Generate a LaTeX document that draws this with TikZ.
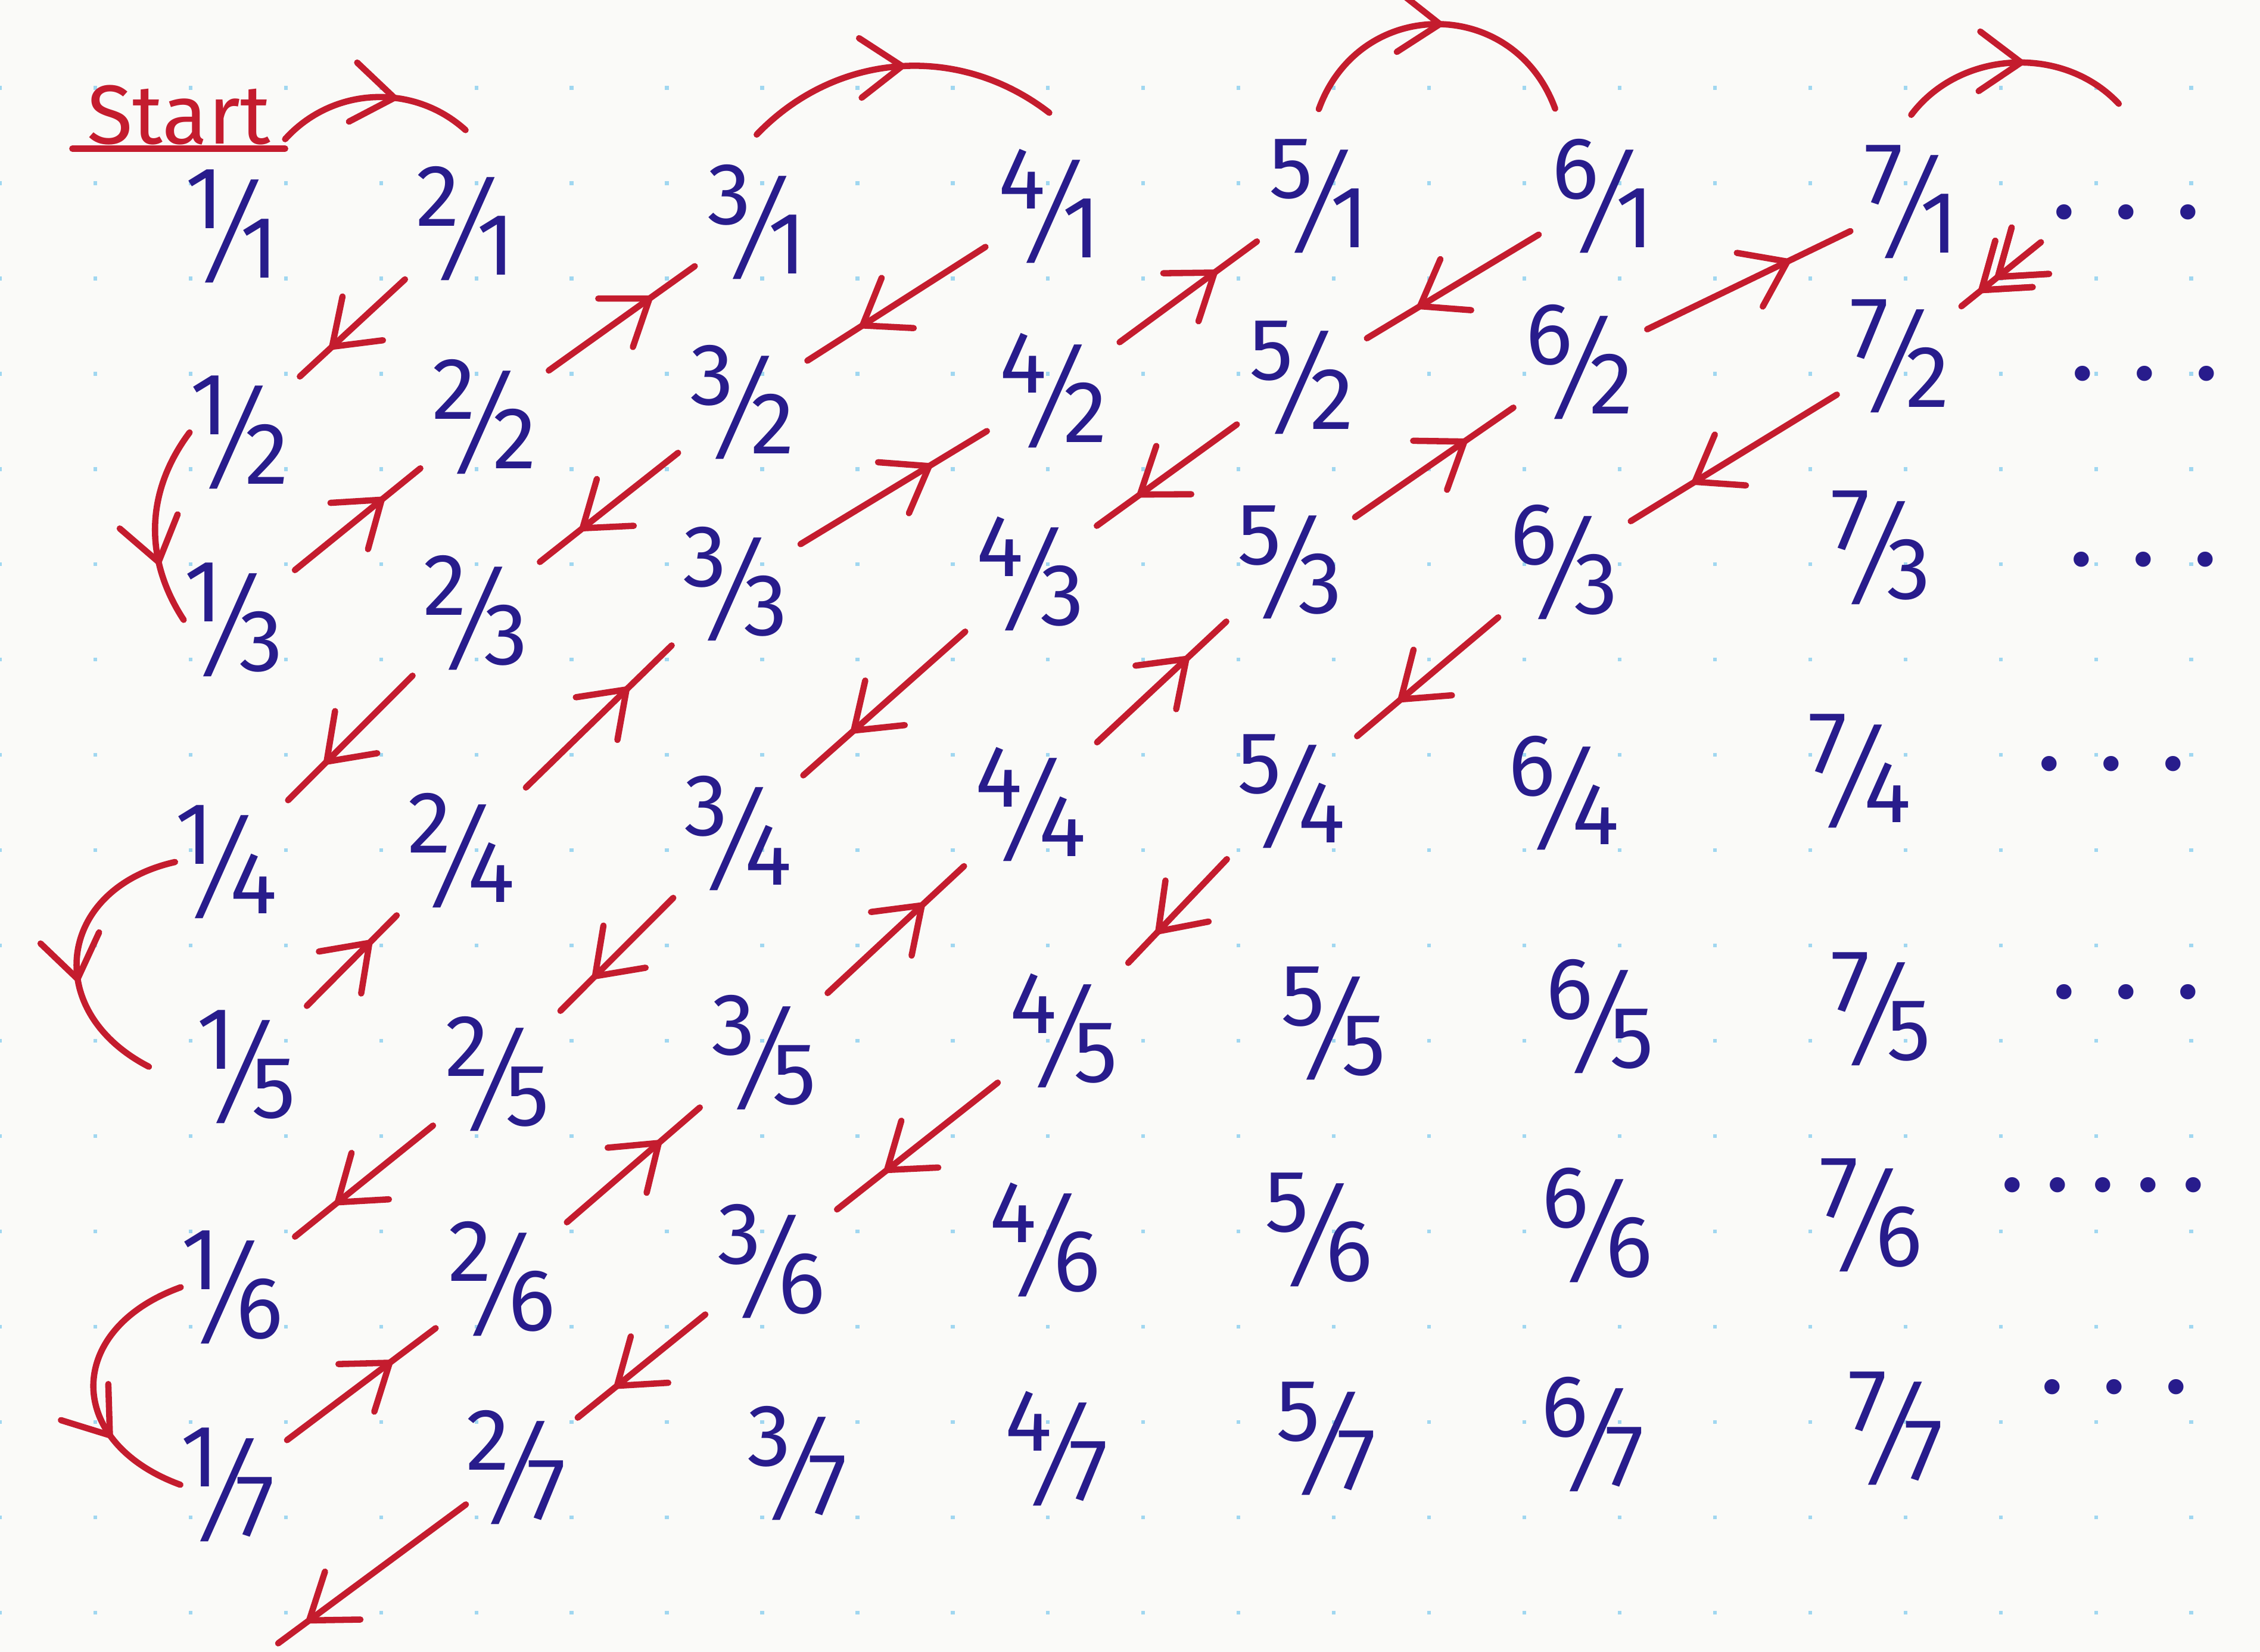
\documentclass[tikz,border=0pt]{standalone}
\usepackage{fontspec}
\setmainfont{Fira Sans}
\newfontfamily\slashfont{DejaVu Sans}
\usetikzlibrary{arrows.meta,decorations.markings}

\definecolor{ink}{RGB}{40,28,140}
\definecolor{pen}{RGB}{196,28,46}
\definecolor{paper}{RGB}{250,250,248}
\definecolor{dotgrid}{RGB}{160,215,240}

% handwritten-ish fraction: raised numerator, long fraction slash, lowered denominator
\newcommand{\fr}[2]{\raisebox{.28em}{#1}\raisebox{-.32em}{\scalebox{1.15}[1.55]{\slashfont ⁄}}\raisebox{-.28em}{#2}}
\newcommand{\gap}{\hspace{.5em}}

\tikzset{
  frac/.style={text=ink, font=\fontsize{42}{46}\selectfont, inner sep=0pt},
  more/.style={text=ink, font=\fontsize{40}{44}\selectfont\bfseries, inner sep=0pt},
  note/.style={text=pen, font=\fontsize{40}{44}\selectfont},
  link/.style={draw=pen, line width=3pt, line cap=round},
  midarrow/.style={postaction={decorate}, decoration={markings,
      mark=at position #1 with {\arrow{Straight Barb[length=7mm,width=10mm,round]}}}},
  midarrow/.default=0.68,
  diag/.style={link, midarrow, shorten <=2.5mm, shorten >=2.5mm},
}

\begin{document}
\begin{tikzpicture}[x=0.242mm, y=-0.242mm]
  % Paper with dot grid
  \useasboundingbox (0,0) rectangle (1568,1146);
  \fill[paper] (0,0) rectangle (1568,1146);
  \foreach \i in {0,...,23}
    \foreach \j in {0,...,16}
      \fill[dotgrid] (\i*66.1-1.3,61+\j*66.1-1.3) rectangle ++(2.6,2.6);

  % Start
  \node[note, inner xsep=2.4mm, inner ysep=0.5mm] (start) at (124,80) {Start};
  \draw[link] (start.south west) -- (start.south east);

  % Row 1
  \node[frac] (f11) at (161,157)  {\fr11};
  \node[frac] (f21) at (323,155)  {\fr21};
  \node[frac] (f31) at (525,154)  {\fr31};
  \node[frac] (f41) at (728,143)  {\fr41};
  \node[frac] (f51) at (915,136)  {\fr51};
  \node[frac] (f61) at (1112,136) {\fr61};
  \node[frac] (f71) at (1326,140) {\fr71};
  \node[more] (m1)  at (1475,147) {.\gap.\gap.};

  % Row 2
  \node[frac] (f12) at (166,300)  {\fr12};
  \node[frac] (f22) at (336,289)  {\fr22};
  \node[frac] (f32) at (515,279)  {\fr32};
  \node[frac] (f42) at (731,271)  {\fr42};
  \node[frac] (f52) at (903,262)  {\fr52};
  \node[frac] (f62) at (1096,251) {\fr62};
  \node[frac] (f72) at (1318,247) {\fr72};
  \node[more] (m2)  at (1488,259) {.\gap.\gap.};

  % Row 3
  \node[frac] (f13) at (162,430)  {\fr13};
  \node[frac] (f23) at (330,425)  {\fr23};
  \node[frac] (f33) at (510,405)  {\fr33};
  \node[frac] (f43) at (715,398)  {\fr43};
  \node[frac] (f53) at (895,390)  {\fr53};
  \node[frac] (f63) at (1085,390) {\fr63};
  \node[frac] (f73) at (1305,380) {\fr73};
  \node[more] (m3)  at (1487,388) {.\gap.\gap.};

  % Row 4
  \node[frac] (f14) at (157,598)  {\fr14};
  \node[frac] (f24) at (320,590)  {\fr24};
  \node[frac] (f34) at (512,578)  {\fr34};
  \node[frac] (f44) at (715,558)  {\fr44};
  \node[frac] (f54) at (896,549)  {\fr54};
  \node[frac] (f64) at (1085,550) {\fr64};
  \node[frac] (f74) at (1290,535) {\fr74};
  \node[more] (m4)  at (1465,530) {.\gap.\gap.};

  % Row 5
  \node[frac] (f15) at (171,740)  {\fr15};
  \node[frac] (f25) at (345,745)  {\fr25};
  \node[frac] (f35) at (530,730)  {\fr35};
  \node[frac] (f45) at (738,715)  {\fr45};
  \node[frac] (f55) at (925,710)  {\fr55};
  \node[frac] (f65) at (1110,705) {\fr65};
  \node[frac] (f75) at (1305,700) {\fr75};
  \node[more] (m5)  at (1475,688) {.\gap.\gap.};

  % Row 6
  \node[frac] (f16) at (161,893)  {\fr16};
  \node[frac] (f26) at (348,887)  {\fr26};
  \node[frac] (f36) at (535,875)  {\fr36};
  \node[frac] (f46) at (725,860)  {\fr46};
  \node[frac] (f56) at (915,853)  {\fr56};
  \node[frac] (f66) at (1108,850) {\fr66};
  \node[frac] (f76) at (1298,843) {\fr76};
  \node[more] (m6)  at (1459,822) {.\kern.3em.\kern.3em.\kern.3em.\kern.3em.};

  % Row 7
  \node[frac] (f17) at (158,1030) {\fr17};
  \node[frac] (f27) at (358,1018) {\fr27};
  \node[frac] (f37) at (553,1015) {\fr37};
  \node[frac] (f47) at (733,1005) {\fr47};
  \node[frac] (f57) at (920,998)  {\fr57};
  \node[frac] (f67) at (1105,995) {\fr67};
  \node[frac] (f77) at (1315,991) {\fr77};
  \node[more] (m7)  at (1467,962) {.\gap.\gap.};

  % loose ends of the path
  \coordinate (next) at (1470,72);
  \coordinate (c81)  at (1416,168);
  \coordinate (c18)  at (193,1140);

  % Steps along the top row
  \draw[link, midarrow=0.62] ([yshift=-4mm]start.east) to[bend left=45] ([yshift=6mm]f21.north);
  \draw[link, midarrow=0.52] ([yshift=5mm]f31.north) to[bend left=42] ([yshift=6mm]f41.north);
  \draw[link, midarrow=0.52] ([yshift=5mm]f51.north) to[bend left=70, looseness=1.3] ([xshift=-8mm,yshift=5mm]f61.north);
  \draw[link, midarrow=0.55] ([yshift=5mm]f71.north) to[bend left=50] (next);

  % Steps down the first column
  \draw[link, midarrow=0.7] (f12.west) to[bend right=35] (f13.west);
  \draw[link, midarrow=0.6] (f14.west) to[bend right=70, looseness=1.5] ([xshift=-8mm]f15.west);
  \draw[link, midarrow=0.7] (f16.west) to[bend right=70, looseness=1.6] (f17.west);

  % Diagonals
  \draw[diag] (f21) -- (f12);
  \draw[diag] (f13) -- (f22);
  \draw[diag] (f22) -- (f31);
  \draw[diag] (f41) -- (f32);
  \draw[diag] (f32) -- (f23);
  \draw[diag] (f23) -- (f14);
  \draw[diag] (f15) -- (f24);
  \draw[diag] (f24) -- (f33);
  \draw[diag] (f33) -- (f42);
  \draw[diag] (f42) -- (f51);
  \draw[diag] (f61) -- (f52);
  \draw[diag] (f52) -- (f43);
  \draw[diag] (f43) -- (f34);
  \draw[diag] (f34) -- (f25);
  \draw[diag] (f25) -- (f16);
  \draw[diag] (f17) -- (f26);
  \draw[diag] (f26) -- (f35);
  \draw[diag] (f35) -- (f44);
  \draw[diag] (f44) -- (f53);
  \draw[diag] (f53) -- (f62);
  \draw[diag] (f62) -- (f71);
  \draw[diag, midarrow=0.5, shorten <=0pt] (c81) -- (f72);
  \draw[diag] (f72) -- (f63);
  \draw[diag] (f63) -- (f54);
  \draw[diag] (f54) -- (f45);
  \draw[diag] (f45) -- (f36);
  \draw[diag] (f36) -- (f27);
  \draw[link, midarrow=0.85] (f27) -- (c18);
\end{tikzpicture}
\end{document}
